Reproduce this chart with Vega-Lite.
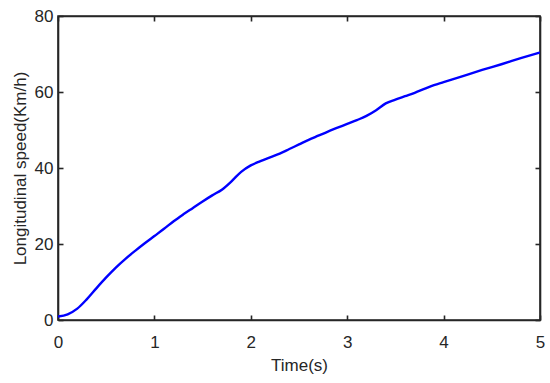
{
  "$schema": "https://vega.github.io/schema/vega-lite/v6.json",
  "autosize": "none",
  "width": 482,
  "height": 304,
  "padding": {"left": 58, "top": 16, "right": 10, "bottom": 63},
  "background": "white",
  "config": {
    "view": {"stroke": "#262626", "strokeWidth": 1.6},
    "axis": {
      "labelFont": "Liberation Sans",
      "titleFont": "Liberation Sans",
      "labelFontSize": 17,
      "titleFontSize": 17,
      "labelColor": "#262626",
      "titleColor": "#262626",
      "titleFontWeight": "normal",
      "domainColor": "#262626",
      "domainWidth": 1.6,
      "tickColor": "#262626",
      "tickWidth": 1.6,
      "tickSize": -5,
      "grid": false
    }
  },
  "data": {
    "values": [
      {"t": 0, "v": 0.9}, {"t": 0.1, "v": 1.5}, {"t": 0.2, "v": 3.0}, {"t": 0.3, "v": 5.5},
      {"t": 0.4, "v": 8.4}, {"t": 0.5, "v": 11.2}, {"t": 0.6, "v": 13.8}, {"t": 0.7, "v": 16.1},
      {"t": 0.8, "v": 18.2}, {"t": 0.9, "v": 20.2}, {"t": 1.0, "v": 22.1}, {"t": 1.1, "v": 24.0},
      {"t": 1.2, "v": 26.0}, {"t": 1.3, "v": 27.8}, {"t": 1.4, "v": 29.5}, {"t": 1.5, "v": 31.2},
      {"t": 1.6, "v": 32.8}, {"t": 1.7, "v": 34.3}, {"t": 1.8, "v": 36.5}, {"t": 1.9, "v": 39.0},
      {"t": 2.0, "v": 40.7}, {"t": 2.1, "v": 41.8}, {"t": 2.2, "v": 42.8}, {"t": 2.3, "v": 43.8},
      {"t": 2.4, "v": 45.0}, {"t": 2.5, "v": 46.2}, {"t": 2.6, "v": 47.4}, {"t": 2.7, "v": 48.5},
      {"t": 2.8, "v": 49.6}, {"t": 2.9, "v": 50.6}, {"t": 3.0, "v": 51.6}, {"t": 3.1, "v": 52.6},
      {"t": 3.2, "v": 53.7}, {"t": 3.3, "v": 55.2}, {"t": 3.4, "v": 57.0}, {"t": 3.5, "v": 58.0},
      {"t": 3.6, "v": 58.9}, {"t": 3.7, "v": 59.8}, {"t": 3.8, "v": 60.8}, {"t": 3.9, "v": 61.8},
      {"t": 4.0, "v": 62.6}, {"t": 4.2, "v": 64.2}, {"t": 4.4, "v": 65.8}, {"t": 4.6, "v": 67.3},
      {"t": 4.8, "v": 68.9}, {"t": 5.0, "v": 70.4}
    ]
  },
  "layer": [
    {
      "mark": {"type": "line", "color": "#0000FF", "strokeWidth": 2.4, "interpolate": "monotone", "clip": true},
      "encoding": {
        "x": {"field": "t", "type": "quantitative", "scale": {"domain": [0, 5], "nice": false},
              "axis": {"title": "Time(s)", "values": [0, 1, 2, 3, 4, 5], "labelPadding": 19, "titlePadding": 7, "labelFlush": false}},
        "y": {"field": "v", "type": "quantitative", "scale": {"domain": [0, 80], "nice": false},
              "axis": {"title": "Longitudinal speed(Km/h)", "values": [0, 20, 40, 60, 80], "labelPadding": 10, "titlePadding": 5, "labelFlush": false}}
      }
    },
    {
      "mark": {"type": "line", "opacity": 0},
      "encoding": {
        "x": {"field": "t", "type": "quantitative", "scale": {"domain": [0, 5], "nice": false},
              "axis": {"orient": "top", "title": null, "labels": false, "values": [0, 1, 2, 3, 4, 5]}},
        "y": {"field": "v", "type": "quantitative", "scale": {"domain": [0, 80], "nice": false},
              "axis": {"orient": "right", "title": null, "labels": false, "values": [0, 20, 40, 60, 80]}}
      }
    }
  ],
  "resolve": {"scale": {"x": "independent", "y": "independent"}, "axis": {"x": "independent", "y": "independent"}}
}
